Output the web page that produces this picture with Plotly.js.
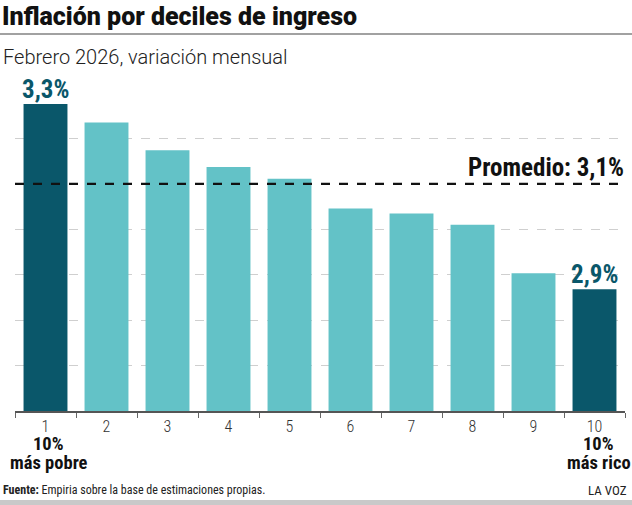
<!DOCTYPE html>
<html>
<head>
<meta charset="utf-8">
<script src="https://cdn.plot.ly/plotly-3.0.1.min.js"></script>
<style>
  html, body { margin: 0; padding: 0; background: #fff; }
  #chart { width: 632px; height: 505px; }
</style>
</head>
<body>
<div id="chart"></div>
<script>
// Deciles de ingreso (1 = 10% más pobre, 10 = 10% más rico)
const deciles = ['1', '2', '3', '4', '5', '6', '7', '8', '9', '10'];
// Variación mensual de precios, febrero 2026 (%)
const inflacion = [3.276, 3.235, 3.174, 3.137, 3.111, 3.046, 3.035, 3.010, 2.903, 2.868];
const promedio = 3.1;
const extremos = { '1': ['10%', 'más pobre'], '10': ['10%', 'más rico'] };

const W = 632, H = 505;
const M = { l: 15, r: 7, t: 93, b: 94 };
const plotH = H - M.t - M.b;
const plotW = W - M.l - M.r;
// helpers: pixel position -> paper coordinates
const py = y => (H - M.b - y) / plotH;
const px = x => (x - M.l) / plotW;

const DARK = '#0a576a';
const LIGHT = '#63c2c7';
const COND = '"Roboto Condensed", Roboto, sans-serif';
const SANS = 'Roboto, sans-serif';

const destacado = d => d === '1' || d === '10';
const fmt = v => v.toFixed(1).replace('.', ',') + '%';

const trace = {
  type: 'bar',
  x: deciles,
  y: inflacion,
  marker: { color: deciles.map(d => destacado(d) ? DARK : LIGHT) },
  hoverinfo: 'skip'
};

const annotations = [];
// value labels over the first and last decile, group names below the axis
deciles.forEach((d, i) => {
  if (destacado(d)) {
    annotations.push({
      x: i, xref: 'x', y: inflacion[i], yref: 'y',
      text: fmt(inflacion[i]),
      showarrow: false, yanchor: 'bottom', borderpad: 0, yshift: -1,
      font: { family: COND, size: 25, weight: 700, color: DARK }
    });
    extremos[d].forEach((linea, k) => {
      annotations.push({
        x: i, xref: 'x', y: py(444 + 19 * k), yref: 'paper',
        text: linea,
        showarrow: false, yanchor: 'middle', align: 'center', borderpad: 0,
        xshift: d === '10' ? 4 : 3,
        font: { family: COND, size: 18.5, weight: 700, color: '#111' }
      });
    });
  }
});
// average label
annotations.push({
  x: px(625), xref: 'paper', y: promedio, yref: 'y',
  text: 'Promedio: ' + fmt(promedio),
  showarrow: false, xanchor: 'right', yanchor: 'bottom', borderpad: 0, yshift: 1,
  font: { family: COND, size: 25, weight: 700, color: '#111' }
});
// subtitle
annotations.push({
  x: px(2), xref: 'paper', y: py(57), yref: 'paper',
  text: 'Febrero 2026, variación mensual',
  showarrow: false, xanchor: 'left', yanchor: 'middle', borderpad: 0,
  font: { family: SANS, size: 20, weight: 300, color: '#222' }
});
// source and credit
annotations.push({
  x: px(2), xref: 'paper', y: py(490), yref: 'paper',
  text: '<b>Fuente:</b> Empiria sobre la base de estimaciones propias.',
  showarrow: false, xanchor: 'left', yanchor: 'middle', borderpad: 0,
  font: { family: COND, size: 12, color: '#222' }
});
annotations.push({
  x: px(628), xref: 'paper', y: py(490), yref: 'paper',
  text: 'LA VOZ',
  showarrow: false, xanchor: 'right', yanchor: 'middle', borderpad: 0,
  font: { family: COND, size: 13, color: '#222' }
});

const shapes = [
  // average reference line
  { type: 'line', xref: 'paper', x0: 0, x1: 1, yref: 'y', y0: promedio, y1: promedio,
    line: { color: '#111', width: 2.2, dash: 'dash' } },
  // rule under the title
  { type: 'line', xref: 'paper', x0: px(0), x1: px(632), yref: 'paper', y0: py(34), y1: py(34),
    line: { color: '#444', width: 1.2 } },
  // bottom band
  { type: 'rect', xref: 'paper', x0: px(0), x1: px(632), yref: 'paper', y0: py(500), y1: py(506),
    fillcolor: '#c9c9c9', line: { width: 0 } }
];

const layout = {
  width: W, height: H,
  margin: M,
  paper_bgcolor: '#fff', plot_bgcolor: '#fff',
  showlegend: false,
  bargap: 0.28,
  title: {
    text: 'Inflación por deciles de ingreso',
    x: 2 / W, xanchor: 'left', xref: 'container',
    y: 1 - 16 / H, yanchor: 'middle', yref: 'container',
    font: { family: SANS, size: 25, weight: 900, color: '#111' }
  },
  xaxis: {
    type: 'category',
    range: [-0.5, 9.5],
    showline: true, linecolor: '#555', linewidth: 1.5,
    ticks: 'outside', tickson: 'boundaries', ticklen: 5, tickcolor: '#666', tickwidth: 1,
    showgrid: false,
    tickfont: { family: COND, size: 16, weight: 300, color: '#333' },
    fixedrange: true
  },
  yaxis: {
    range: [2.6, 3.3],
    tick0: 2.6, dtick: 0.1,
    showticklabels: false,
    showgrid: true, gridcolor: '#cfcfcf', gridwidth: 1, griddash: 'dash',
    zeroline: false, showline: false,
    fixedrange: true
  },
  annotations: annotations,
  shapes: shapes
};

Plotly.newPlot('chart', [trace], layout, { displayModeBar: false, staticPlot: true });
</script>
</body>
</html>
